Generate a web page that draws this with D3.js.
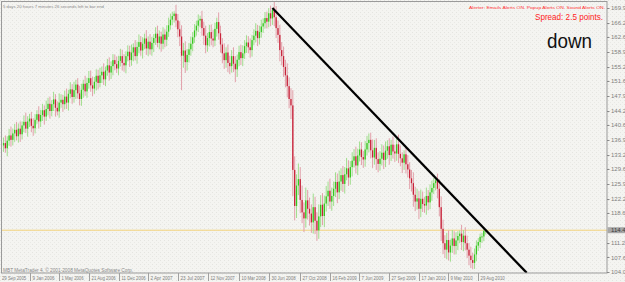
<!DOCTYPE html>
<html><head><meta charset="utf-8">
<script src="https://cdn.jsdelivr.net/npm/d3@7"></script>
<style>html,body{margin:0;padding:0;background:#f3f3ef;overflow:hidden}svg{display:block}</style>
</head><body><svg id="c" width="625" height="282"></svg>
<script>
// ---------------- data (EUR/JPY weekly) ----------------
const startDate = "2005-10-03";   // first visible weekly bar
const firstOpen = 135.6;
const closes = [
136.2,134.9,136.8,138.1,137.0,138.6,139.5,137.9,139.8,138.4,140.6,141.5,139.8,141.6,142.3,140.5,139.9,142.0,143.4,141.6,143.2,
144.4,142.8,144.7,146.0,144.2,145.9,147.1,145.0,144.1,146.3,147.0,
145.9,147.8,146.3,148.5,149.6,147.7,149.4,150.8,148.6,147.2,
149.5,151.0,149.1,151.2,152.4,150.6,
149.8,151.5,153.0,151.2,153.1,
154.0,152.1,154.3,155.6,153.8,155.4,156.9,155.9,154.8,156.7,157.9,156.2,
155.6,157.9,159.0,156.9,158.8,160.1,157.9,160.2,161.4,159.3,
161.0,162.3,159.8,161.5,159.6,161.2,
162.4,163.5,161.2,162.8,161.0,163.3,162.0,164.0,
165.6,167.0,167.9,168.5,166.8,164.6,162.8,158.0,159.3,156.4,158.2,159.6,
161.0,162.6,164.3,165.5,166.8,167.2,164.9,163.0,160.6,162.4,163.9,162.3,
161.8,164.7,166.4,163.6,160.8,158.6,156.9,158.8,156.2,155.4,157.9,156.0,154.6,157.0,158.9,157.4,
158.6,160.4,161.3,160.1,159.4,161.9,163.0,164.2,162.4,163.9,
165.3,166.1,167.4,166.5,168.6,167.3,169.4,167.6,164.9,163.2,159.4,157.9,155.2,153.1,150.4,147.2,145.6,129.5,120.5,125.6,127.2,122.0,118.9,117.4,121.9,119.8,
118.6,116.4,120.2,116.8,114.4,117.9,120.8,118.0,121.1,122.9,124.3,121.6,123.0,
124.8,126.5,123.9,126.6,128.2,126.0,128.4,129.9,127.6,130.2,131.8,132.9,130.6,133.1,134.6,132.7,
132.1,134.6,136.2,137.0,134.4,132.6,135.0,132.2,131.0,132.3,133.8,132.0,134.3,135.4,133.2,135.8,134.1,
133.6,135.9,133.5,132.4,131.3,133.4,130.9,129.6,127.4,126.2,123.3,121.6,122.4,119.8,122.3,121.0,
120.6,123.0,121.4,123.9,125.0,126.2,126.9,124.8,120.2,114.8,111.2,109.6,112.0,108.9,110.6,112.4,110.5,111.9,
113.0,113.6,111.5,113.1,111.2,109.6,108.1,107.0,106.3,108.4,110.6,111.5,112.8,
112.9,114.3,114.45
];
const wickHi = [
1.4,1.9,1.1,1.6,2.2,1.2,1.5,2.0,1.3,1.8,1.0,1.6,2.3,1.3,1.2,1.7,1.9,1.4,1.0,2.0,1.3,
1.6,1.2,2.1,1.5,1.8,1.0,1.9,1.3,1.6,2.3,1.4,
1.2,1.5,2.0,1.0,1.8,1.3,2.1,1.2,1.6,1.9,
1.5,1.0,2.0,1.3,1.8,1.9,
2.2,1.2,1.6,1.5,1.9,
1.3,2.1,1.0,1.6,2.0,1.2,1.5,1.4,1.9,1.3,1.8,1.6,
2.2,1.2,1.6,1.5,2.0,1.0,1.8,1.3,1.9,1.5,
1.6,1.2,2.1,1.3,1.9,1.5,
1.0,1.6,2.0,1.5,1.2,1.8,1.3,1.6,
1.9,1.5,1.1,0.6,2.2,1.6,2.0,2.8,1.9,2.3,1.5,1.6,
1.8,1.3,1.6,1.2,1.5,0.8,2.0,1.6,2.5,1.3,1.8,1.9,
2.2,1.5,1.1,2.4,1.9,1.6,2.5,1.3,2.0,1.8,1.5,2.2,1.9,1.3,1.6,1.8,
2.0,1.5,1.8,1.6,2.2,1.3,1.6,1.9,1.5,1.6,
1.7,1.2,1.5,1.6,1.3,1.9,0.5,2.2,2.8,1.9,2.5,2.0,2.4,1.8,3.0,2.2,2.7,3.8,3.4,2.8,3.9,3.0,3.6,2.5,3.2,2.6,
2.8,2.3,3.4,2.6,2.1,3.0,2.4,2.9,2.0,2.6,2.3,3.0,2.1,
1.8,2.4,2.1,2.7,1.7,2.3,1.8,2.6,2.0,1.5,2.1,1.8,2.4,1.7,2.0,1.8,
1.5,2.1,1.8,1.6,1.8,2.7,2.0,2.4,1.7,1.9,2.1,1.8,2.3,1.5,2.0,1.2,2.0,
1.7,1.4,2.4,2.1,1.5,1.0,1.7,2.3,1.8,2.1,2.7,2.0,2.4,1.8,2.3,1.8,
1.7,2.1,1.5,2.0,1.8,1.3,0.6,1.7,2.4,2.7,2.3,2.0,1.8,2.4,1.5,2.1,1.8,2.0,
1.2,0.8,2.2,1.4,2.1,1.9,1.7,2.2,1.8,1.5,1.3,1.0,0.8,
0.9,0.4,0.1
];
const wickLo = [
1.6,1.1,2.0,1.3,1.7,1.4,2.1,1.0,1.6,1.9,1.3,1.7,1.1,2.0,1.4,1.6,1.9,1.3,1.0,1.8,1.4,
1.5,2.0,1.1,1.6,1.9,1.3,1.7,2.2,1.0,1.6,1.3,
1.9,1.3,1.6,2.0,1.1,1.7,1.4,2.2,1.3,1.6,
1.7,2.0,1.1,1.6,1.4,1.6,
1.9,1.3,2.2,1.6,1.1,
1.9,1.4,1.7,1.3,2.0,1.6,2.3,1.5,1.1,1.7,1.4,1.9,
1.6,2.0,1.3,1.7,1.4,2.2,1.1,1.9,1.6,1.3,
2.0,1.4,1.6,1.9,1.3,1.6,
2.3,1.7,1.1,1.6,2.0,1.4,1.9,1.6,
1.3,1.1,1.4,1.6,1.7,2.0,2.4,8.6,3.0,2.7,2.1,1.9,
1.6,1.9,1.4,1.3,1.6,1.7,1.9,2.3,2.0,1.6,2.1,1.7,
1.7,1.4,1.9,1.6,2.0,2.5,2.2,1.9,2.3,2.0,1.6,2.1,3.2,1.9,1.6,1.7,
2.0,1.4,1.7,1.5,1.9,1.6,1.3,1.7,2.0,1.6,
1.4,1.6,1.3,1.7,1.4,1.9,1.6,2.2,2.5,2.0,2.8,2.3,2.5,3.0,2.8,2.3,3.4,6.5,3.6,3.0,2.4,3.3,2.7,3.4,2.3,2.7,
3.0,2.6,2.8,3.3,2.6,2.1,2.7,2.3,2.8,2.0,2.4,1.8,2.3,
2.5,2.1,2.7,1.7,2.3,2.0,2.4,1.5,2.1,1.8,2.3,1.7,2.0,2.4,1.5,2.0,
2.1,1.8,1.5,2.3,2.0,2.6,1.8,2.7,2.1,1.7,1.7,2.3,1.8,2.0,2.4,1.5,1.8,
2.1,1.8,2.3,2.0,2.6,1.8,2.3,2.0,2.7,2.1,3.0,2.4,2.0,2.6,2.1,2.0,
1.8,2.3,2.0,1.7,2.1,1.5,1.8,2.4,2.3,3.0,2.7,2.1,2.4,2.0,2.3,1.8,2.1,2.1,
2.4,1.8,2.0,2.3,1.8,2.1,2.4,2.0,1.6,1.5,1.7,1.3,1.5,
1.5,1.2,0.9
];
const yTicks = [169.910,166.280,162.650,158.910,155.280,151.650,147.910,144.280,140.650,
  136.910,133.280,129.650,125.910,122.280,118.650,111.280,107.650,104.020];
const currentPrice = 114.45;
const dateTicks = ["2006-01-09","2006-05-01","2006-08-21","2006-12-11","2007-04-02","2007-07-23",
  "2007-11-12","2008-03-10","2008-06-30","2008-10-27","2009-02-16","2009-06-07","2009-09-27",
  "2010-01-17","2010-05-09","2010-08-29"];
const dateLabels = ["9 Jan 2006","1 May 2006","21 Aug 2006","11 Dec 2006","2 Apr 2007","23 Jul 2007",
  "12 Nov 2007","10 Mar 2008","30 Jun 2008","27 Oct 2008","16 Feb 2009","7 Jun 2009","27 Sep 2009",
  "17 Jan 2010","9 May 2010","29 Aug 2010"];
const firstDateLabel = "29 Sep 2005";
const trendPoints = [["2008-07-14",169.9],["2011-03-01",103.8]];
const infoText = "5 days 20 hours 7 minutes 26 seconds left to bar end";
const alertText = "Alerter:  Emails Alerts ON.  Popup Alerts ON.  Sound Alerts ON.";
const spreadText = "Spread: 2.5 points.";
const signalText = "down";
const copyText = "MBT MetaTrader 4, \u00a9 2001-2008 MetaQuotes Software Corp.";

// ---------------- drawing ----------------
const W = 625, H = 282;
const L = 1.5, T = 1.5, R = 607, B = 273;
const svg = d3.select("#c");
const defs = svg.append("defs");
const pat = defs.append("pattern").attr("id","dots").attr("width",4).attr("height",4)
  .attr("patternUnits","userSpaceOnUse");
pat.append("rect").attr("width",4).attr("height",4).attr("fill","#f4f4f1");
pat.append("rect").attr("x",0).attr("y",0).attr("width",1).attr("height",1).attr("fill","#e4e4e0");
pat.append("rect").attr("x",2).attr("y",2).attr("width",1).attr("height",1).attr("fill","#e9e9e5");
defs.append("clipPath").attr("id","plot").append("rect")
  .attr("x",L).attr("y",T).attr("width",R-L).attr("height",B-T);

svg.append("rect").attr("width",W).attr("height",H).attr("fill","url(#dots)");

const parse = d3.utcParse("%Y-%m-%d");
const x = d3.scaleUtc().domain([parse("2006-01-09"), parse("2010-08-29")]).range([29.5, 478]);
const y = d3.scaleLinear().domain([104.02, 169.91]).range([272, 8]);

const n = Math.min(closes.length, wickHi.length, wickLo.length);
const t0 = parse(startDate);
const bars = d3.range(n).map(i => {
  const o = i === 0 ? firstOpen : closes[i-1];
  const c = closes[i];
  return {date: d3.utcDay.offset(t0, 7*i), o, c,
    h: Math.max(o,c) + wickHi[i], l: Math.min(o,c) - wickLo[i]};
});

const g = svg.append("g").attr("clip-path","url(#plot)");
const upBody = "#35c81f", dnBody = "#c8233a", upWick = "#9fdd8c", dnWick = "#e2a0aa";

g.append("line").attr("x1",L).attr("x2",R).attr("y1",y(currentPrice)).attr("y2",y(currentPrice))
  .attr("stroke","#f2d27a").attr("stroke-width",1);

const bg = g.append("g");
bg.selectAll("line.w").data(bars).join("line").attr("class","w")
  .attr("x1",d=>x(d.date)).attr("x2",d=>x(d.date))
  .attr("y1",d=>y(d.h)).attr("y2",d=>y(d.l))
  .attr("stroke",d=>d.c>=d.o?upWick:dnWick).attr("stroke-width",1);
bg.selectAll("rect.b").data(bars).join("rect").attr("class","b")
  .attr("x",d=>x(d.date)-0.65).attr("width",1.3)
  .attr("y",d=>y(Math.max(d.o,d.c)))
  .attr("height",d=>Math.max(1, Math.abs(y(d.o)-y(d.c))))
  .attr("fill",d=>d.c>=d.o?upBody:dnBody);

const tl = trendPoints.map(p=>[x(parse(p[0])), y(p[1])]);
g.append("line").attr("x1",tl[0][0]).attr("y1",tl[0][1]).attr("x2",tl[1][0]).attr("y2",tl[1][1])
  .attr("stroke","#000").attr("stroke-width",2.2);

svg.append("rect").attr("x",L).attr("y",T).attr("width",R-L).attr("height",B-T)
  .attr("fill","none").attr("stroke","#9a9a9a").attr("stroke-width",1);

const ft = "Liberation Sans, Arial, sans-serif";
const ax = svg.append("g").attr("font-family",ft).attr("font-size",6).attr("fill","#808080");
yTicks.forEach(v=>{
  ax.append("line").attr("x1",R).attr("x2",R+2.5).attr("y1",Math.round(y(v))+0.5).attr("y2",Math.round(y(v))+0.5)
    .attr("stroke","#8a8a8a");
  ax.append("text").attr("x",R+4).attr("y",y(v)+2.1).text(v.toFixed(3));
});
const cy = y(currentPrice);
ax.append("rect").attr("x",R+0.5).attr("y",cy-3).attr("width",W-R).attr("height",6).attr("fill","#a7a7a7");
ax.append("text").attr("x",R+4).attr("y",cy+2.1).attr("fill","#3a3a3a").text(currentPrice.toFixed(3));

const dx = svg.append("g").attr("font-family",ft).attr("font-size",4.8).attr("fill","#808080");
dx.append("text").attr("x",2).attr("y",279.5).attr("textLength",firstDateLabel.length*2.2)
  .attr("lengthAdjust","spacingAndGlyphs").text(firstDateLabel);
dateTicks.forEach((d,i)=>{
  const xx = Math.round(x(parse(d)))+0.5;
  dx.append("line").attr("x1",xx).attr("x2",xx).attr("y1",B).attr("y2",B+8).attr("stroke","#a0a0a0");
  dx.append("text").attr("x",xx+2).attr("y",279.5).attr("textLength",dateLabels[i].length*2.2)
    .attr("lengthAdjust","spacingAndGlyphs").text(dateLabels[i]);
});

svg.append("text").attr("x",3).attr("y",8).attr("font-family",ft).attr("font-size",4.4)
  .attr("fill","#8a8a8a").attr("textLength",101).attr("lengthAdjust","spacingAndGlyphs").text(infoText);
svg.append("text").attr("x",469).attr("y",8.5).attr("font-family",ft)
  .attr("font-size",4.4).attr("fill","#ff3333").attr("textLength",136).attr("lengthAdjust","spacingAndGlyphs").text(alertText);
svg.append("text").attr("x",603).attr("y",20).attr("text-anchor","end").attr("font-family",ft)
  .attr("font-size",9.5).attr("fill","#ff2222").attr("textLength",68).attr("lengthAdjust","spacingAndGlyphs").text(spreadText);
svg.append("text").attr("x",592).attr("y",48).attr("text-anchor","end").attr("font-family",ft)
  .attr("font-size",20).attr("fill","#111").attr("textLength",45).attr("lengthAdjust","spacingAndGlyphs").text(signalText);
svg.append("text").attr("x",3).attr("y",271.5).attr("font-family",ft).attr("font-size",5.5)
  .attr("fill","#8a8a8a").attr("textLength",130).attr("lengthAdjust","spacingAndGlyphs").text(copyText);
</script></body></html>
